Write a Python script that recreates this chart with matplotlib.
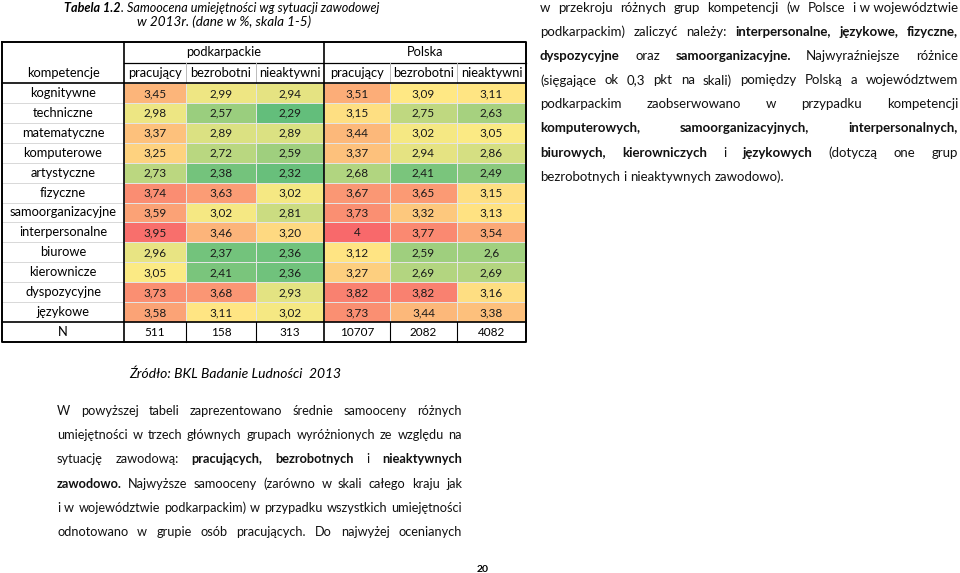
import matplotlib
matplotlib.use("Agg")
import matplotlib.pyplot as plt
import numpy as np
from matplotlib.colors import LinearSegmentedColormap, TwoSlopeNorm

plt.rcParams['font.family'] = ['Lato', 'DejaVu Sans']

# Dane tabeli
competences = ['kognitywne', 'techniczne', 'matematyczne', 'komputerowe', 'artystyczne',
               'fizyczne', 'samoorganizacyjne', 'interpersonalne', 'biurowe',
               'kierownicze', 'dyspozycyjne', 'językowe']
regions = ['podkarpackie', 'Polska']
groups = ['pracujący', 'bezrobotni', 'nieaktywni']

podkarpackie = [['3,45', '2,99', '2,94'], ['2,98', '2,57', '2,29'], ['3,37', '2,89', '2,89'],
                ['3,25', '2,72', '2,59'], ['2,73', '2,38', '2,32'], ['3,74', '3,63', '3,02'],
                ['3,59', '3,02', '2,81'], ['3,95', '3,46', '3,20'], ['2,96', '2,37', '2,36'],
                ['3,05', '2,41', '2,36'], ['3,73', '3,68', '2,93'], ['3,58', '3,11', '3,02']]
polska = [['3,51', '3,09', '3,11'], ['3,15', '2,75', '2,63'], ['3,44', '3,02', '3,05'],
          ['3,37', '2,94', '2,86'], ['2,68', '2,41', '2,49'], ['3,67', '3,65', '3,15'],
          ['3,73', '3,32', '3,13'], ['4', '3,77', '3,54'], ['3,12', '2,59', '2,6'],
          ['3,27', '2,69', '2,69'], ['3,82', '3,82', '3,16'], ['3,73', '3,44', '3,38']]
n_counts = [511, 158, 313, 10707, 2082, 4082]

title_bold = 'Tabela 1.2'
title_rest = '. Samoocena umiejętności wg sytuacji zawodowej'
title_line2 = 'w 2013r. (dane w %, skala 1-5)'
source = 'Źródło: BKL Badanie Ludności  2013'

right_par = ['w przekroju różnych grup kompetencji (w Polsce i\u00a0w\u00a0województwie',
             'podkarpackim) zaliczyć należy: **interpersonalne, językowe, fizyczne,**',
             '**dyspozycyjne** oraz **samoorganizacyjne.** Najwyraźniejsze różnice',
             '(sięgające ok 0,3 pkt na skali) pomiędzy Polską a województwem',
             'podkarpackim zaobserwowano w przypadku kompetencji',
             '**komputerowych, samoorganizacyjnych, interpersonalnych,**',
             '**biurowych, kierowniczych** i **językowych** (dotyczą one grup',
             'bezrobotnych i nieaktywnych zawodowo).']
bottom_par = ['W powyższej tabeli zaprezentowano średnie samooceny różnych',
              'umiejętności w trzech głównych grupach wyróżnionych ze względu na',
              'sytuację zawodową: **pracujących, bezrobotnych** i **nieaktywnych**',
              '**zawodowo.** Najwyższe samooceny (zarówno w skali całego kraju jak',
              'i w województwie podkarpackim) w przypadku wszystkich umiejętności',
              'odnotowano w grupie osób pracujących. Do najwyżej ocenianych']

labels = [p + q for p, q in zip(podkarpackie, polska)]
values = np.array([[float(s.replace(',', '.')) for s in row] for row in labels])

# Układ strony (w pikselach)
fig = plt.figure(figsize=(9.6, 5.73), dpi=100)
ax = fig.add_axes([0, 0, 1, 1])
ax.set_xlim(0, 960)
ax.set_ylim(573, 0)
ax.axis('off')
renderer = fig.canvas.get_renderer()

x_edges = np.array([124, 186, 256, 324, 390, 457, 526])
x_left = 2
y_top, y_h1, y_h2 = 42, 63, 83
y_bottom_data = 322
y_edges = np.linspace(y_h2, y_bottom_data, len(competences) + 1)
y_end = 342

# Skala kolorów jak w Excelu (zielony - żółty - czerwony)
cmap = LinearSegmentedColormap.from_list('excel', ['#63BE7B', '#FFEB84', '#F8696B'])
norm = TwoSlopeNorm(vmin=values.min(), vcenter=np.percentile(values, 50), vmax=values.max())

# poziome linie w kolumnie nazw
for y in y_edges[1:-1]:
    ax.plot([x_left, x_edges[0]], [y, y], color='#d8d8d8', lw=0.7)
ax.plot([x_edges[0], x_edges[-1]], [y_h1, y_h1], color='black', lw=0.9)

ax.pcolormesh(x_edges, y_edges, values, cmap=cmap, norm=norm,
              edgecolors='#e4e4e4', linewidth=0.6)

# linie pionowe w nagłówku i wierszu N
for x in [x_edges[1], x_edges[2], x_edges[4], x_edges[5]]:
    ax.plot([x, x], [y_h1, y_h2], color='#bbbbbb', lw=0.7)
    ax.plot([x, x], [y_bottom_data, y_end], color='black', lw=0.8)

# grube linie
ax.plot([x_left, x_edges[-1]], [y_h2, y_h2], color='black', lw=1.2)
ax.plot([x_left, x_edges[-1]], [y_bottom_data, y_bottom_data], color='black', lw=1.2)
for x in [x_edges[0], x_edges[3]]:
    ax.plot([x, x], [y_top, y_end], color='black', lw=1.2)
ax.plot([x_left, x_edges[-1], x_edges[-1], x_left, x_left],
        [y_top, y_top, y_end, y_end, y_top], color='black', lw=1.4)

fs_tab = 9.3
xc = (x_edges[:-1] + x_edges[1:]) / 2
yc = (y_edges[:-1] + y_edges[1:]) / 2
lab_x = (x_left + x_edges[0]) / 2

ax.text((x_edges[0] + x_edges[3]) / 2, (y_top + y_h1) / 2, regions[0], ha='center', va='center', fontsize=fs_tab)
ax.text((x_edges[3] + x_edges[6]) / 2, (y_top + y_h1) / 2, regions[1], ha='center', va='center', fontsize=fs_tab)
ax.text(lab_x, (y_h1 + y_h2) / 2, 'kompetencje', ha='center', va='center', fontsize=fs_tab)
for j, g in enumerate(groups * 2):
    ax.text(xc[j], (y_h1 + y_h2) / 2, g, ha='center', va='center', fontsize=fs_tab)

for i, c in enumerate(competences):
    ax.text(lab_x, yc[i], c, ha='center', va='center', fontsize=fs_tab)
    for j in range(6):
        ax.text(xc[j], yc[i] + 0.5, labels[i][j], ha='center', va='center', fontsize=8.5, color='#1a1a1a')

ax.text(lab_x, (y_bottom_data + y_end) / 2, 'N', ha='center', va='center', fontsize=fs_tab)
for j, n in enumerate(n_counts):
    ax.text(xc[j], (y_bottom_data + y_end) / 2 + 0.5, str(n), ha='center', va='center', fontsize=8.5)


def width(s, **kw):
    t = ax.text(0, 0, s, **kw)
    w = t.get_window_extent(renderer).width
    t.remove()
    return w


# Tytuł tabeli
w1 = width(title_bold, fontsize=9.1, style='italic', weight='bold')
w2 = width(title_rest, fontsize=9.1, style='italic')
tx = 222 - (w1 + w2) / 2
ax.text(tx, 8, title_bold, fontsize=9.1, style='italic', weight='bold', va='center')
ax.text(tx + w1, 8, title_rest, fontsize=9.1, style='italic', va='center')
ax.text(224, 22, title_line2, fontsize=9.7, style='italic', ha='center', va='center')

ax.text(235, 374, source, fontsize=10.0, style='italic', ha='center', va='center')
ax.text(483, 569, '20', fontsize=7.5, weight='bold', ha='center', va='center')


def tokens(line):
    out, cur = [], []
    for k, seg in enumerate(line.split('**')):
        bold = k % 2 == 1
        for m, p in enumerate(seg.split(' ')):
            if m > 0 and cur:
                out.append(cur)
                cur = []
            if p:
                cur.append((p, bold))
    if cur:
        out.append(cur)
    return out


def paragraph(lines, x0, x1, y0, dy, fs, last_left=True):
    space = width('a a', fontsize=fs) - width('aa', fontsize=fs)
    for li, line in enumerate(lines):
        toks = tokens(line)
        widths = [[width(p, fontsize=fs, weight='bold' if b else 'normal') for p, b in t] for t in toks]
        total = sum(sum(w) for w in widths)
        if last_left and li == len(lines) - 1:
            gap = space
        else:
            gap = (x1 - x0 - total) / max(len(toks) - 1, 1)
        x = x0
        y = y0 + li * dy
        for t, ws in zip(toks, widths):
            for (p, b), w in zip(t, ws):
                ax.text(x, y, p, fontsize=fs, weight='bold' if b else 'normal',
                        va='center', ha='left', color='#111111')
                x += w
            x += gap


paragraph(right_par, 540, 958, 8, 24.1, 9.5, last_left=True)
paragraph(bottom_par, 57, 462, 411, 24.2, 9.2, last_left=False)

fig.savefig('out.png', dpi=100, facecolor='white')
